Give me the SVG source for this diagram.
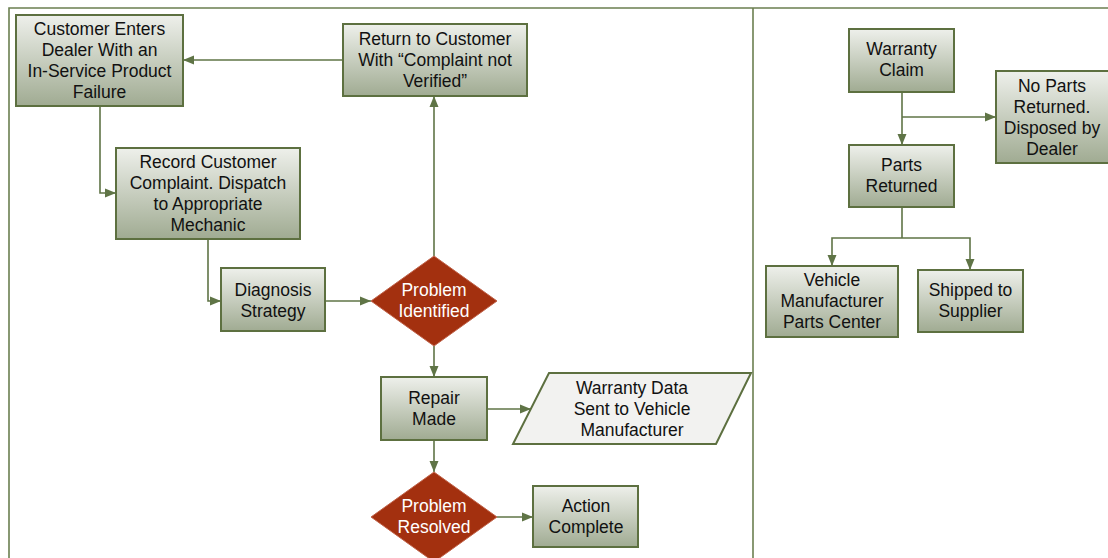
<svg xmlns="http://www.w3.org/2000/svg" width="1108" height="558" viewBox="0 0 1108 558">
<defs>
<linearGradient id="g" x1="0" y1="0" x2="0" y2="1">
<stop offset="0" stop-color="#eef0eb"/>
<stop offset="1" stop-color="#a0ab92"/>
</linearGradient>
<marker id="a" markerUnits="userSpaceOnUse" markerWidth="12" markerHeight="12" viewBox="0 0 12 12" refX="11" refY="6" orient="auto">
<path d="M0,1.5 L11,6 L0,10.5 Z" fill="#5f7446"/>
</marker>
</defs>
<style>
.box{fill:url(#g);stroke:#5d7040;stroke-width:2}
.dia{fill:#a3300f;stroke:#c0634a;stroke-width:1}
.par{fill:#f2f2f0;stroke:#5d7040;stroke-width:2}
.frame{stroke:#6b7f50;stroke-width:1.6;fill:none}
.c{fill:none;stroke:#5f7446;stroke-width:1.6;marker-end:url(#a)}
.cn{fill:none;stroke:#5f7446;stroke-width:1.6}
text{font-family:"Liberation Sans",Arial,sans-serif;font-size:17.5px;fill:#111;text-anchor:middle}
.w{fill:#ffffff}
</style>
<g id="frame">
<path class="frame" d="M9,558 V8 H1108"/>
<path class="frame" d="M753,8 V558"/>
</g>
<g id="connectors">
<path class="c" d="M343,60 H183"/>
<path class="c" d="M100,106 V193 H116"/>
<path class="c" d="M208,239 V301 H221"/>
<path class="c" d="M325,301 H371"/>
<path class="c" d="M434,256 V96"/>
<path class="c" d="M434,346 V377"/>
<path class="c" d="M487,409 H531"/>
<path class="c" d="M434,440 V472"/>
<path class="c" d="M497,517 H533"/>
<path class="c" d="M902,92 V145"/>
<path class="c" d="M902,117 H996"/>
<path class="cn" d="M902,207 V238"/>
<path class="c" d="M902,238 H832 V266"/>
<path class="c" d="M902,238 H970 V270"/>
</g>
<g id="n1"><rect class="box" x="16" y="15" width="167" height="91"/>
<text x="99.5" y="35"><tspan x="99.5">Customer Enters</tspan><tspan x="99.5" dy="21">Dealer With an</tspan><tspan x="99.5" dy="21">In-Service Product</tspan><tspan x="99.5" dy="21">Failure</tspan></text></g>
<g id="n2"><rect class="box" x="116" y="148" width="184" height="91"/>
<text x="208" y="168"><tspan x="208">Record Customer</tspan><tspan x="208" dy="21">Complaint. Dispatch</tspan><tspan x="208" dy="21">to Appropriate</tspan><tspan x="208" dy="21">Mechanic</tspan></text></g>
<g id="n3"><rect class="box" x="343" y="24" width="184" height="72"/>
<text x="435" y="45"><tspan x="435">Return to Customer</tspan><tspan x="435" dy="21">With “Complaint not</tspan><tspan x="435" dy="21">Verified”</tspan></text></g>
<g id="n4"><rect class="box" x="221" y="268" width="104" height="63"/>
<text x="273" y="296"><tspan x="273">Diagnosis</tspan><tspan x="273" dy="21">Strategy</tspan></text></g>
<g id="n5"><polygon class="dia" points="434,256 497,301 434,346 371,301"/>
<text class="w" x="434" y="296"><tspan x="434">Problem</tspan><tspan x="434" dy="21">Identified</tspan></text></g>
<g id="n6"><rect class="box" x="381" y="377" width="106" height="63"/>
<text x="434" y="404"><tspan x="434">Repair</tspan><tspan x="434" dy="21">Made</tspan></text></g>
<g id="n7"><polygon class="par" points="549,373 751,373 716,444 513,444"/>
<text x="632" y="394"><tspan x="632">Warranty Data</tspan><tspan x="632" dy="21">Sent to Vehicle</tspan><tspan x="632" dy="21">Manufacturer</tspan></text></g>
<g id="n8"><polygon class="dia" points="434,472 497,517 434,562 371,517"/>
<text class="w" x="434" y="512"><tspan x="434">Problem</tspan><tspan x="434" dy="21">Resolved</tspan></text></g>
<g id="n9"><rect class="box" x="533" y="486" width="105" height="61"/>
<text x="586" y="512"><tspan x="586">Action</tspan><tspan x="586" dy="21">Complete</tspan></text></g>
<g id="n10"><rect class="box" x="849" y="29" width="105" height="63"/>
<text x="901.5" y="55"><tspan x="901.5">Warranty</tspan><tspan x="901.5" dy="21">Claim</tspan></text></g>
<g id="n11"><rect class="box" x="996" y="71" width="114" height="92"/>
<text x="1052" y="92"><tspan x="1052">No Parts</tspan><tspan x="1052" dy="21">Returned.</tspan><tspan x="1052" dy="21">Disposed by</tspan><tspan x="1052" dy="21">Dealer</tspan></text></g>
<g id="n12"><rect class="box" x="849" y="145" width="105" height="62"/>
<text x="901.5" y="171"><tspan x="901.5">Parts</tspan><tspan x="901.5" dy="21">Returned</tspan></text></g>
<g id="n13"><rect class="box" x="766" y="266" width="132" height="71"/>
<text x="832" y="286"><tspan x="832">Vehicle</tspan><tspan x="832" dy="21">Manufacturer</tspan><tspan x="832" dy="21">Parts Center</tspan></text></g>
<g id="n14"><rect class="box" x="918" y="270" width="105" height="62"/>
<text x="970.5" y="296"><tspan x="970.5">Shipped to</tspan><tspan x="970.5" dy="21">Supplier</tspan></text></g>
</svg>
